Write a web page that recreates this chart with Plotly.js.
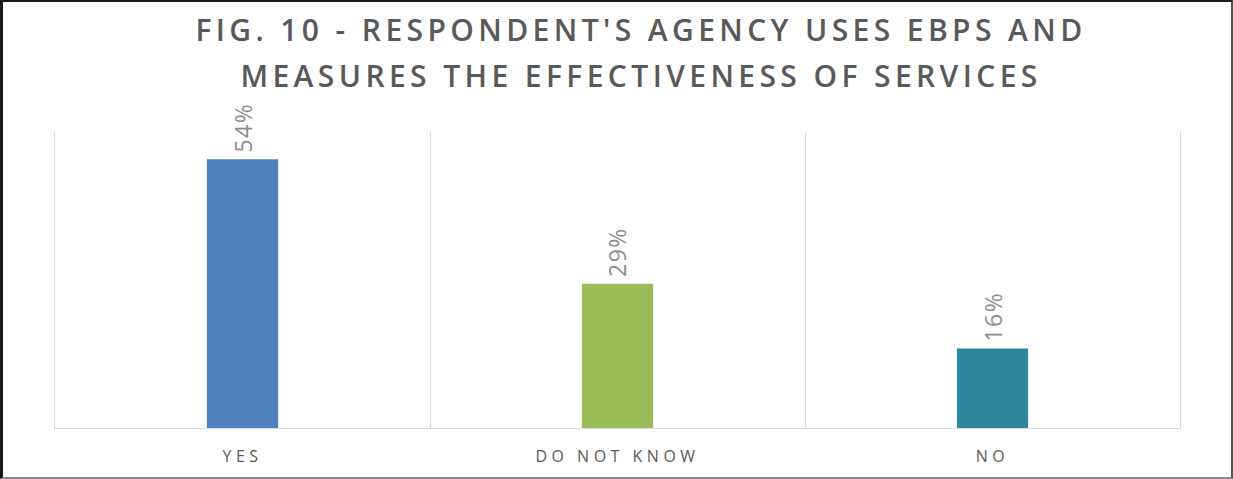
<!DOCTYPE html>
<html>
<head>
<meta charset="utf-8">
<script src="https://cdn.plot.ly/plotly-3.0.1.min.js"></script>
<style>
  html, body { margin: 0; padding: 0; background: #fff; }
  #wrap { position: relative; width: 1233px; height: 479px; }
  #chart { width: 1233px; height: 479px; }
  #frame { position: absolute; left: 0; top: 0; width: 1233px; height: 479px; box-sizing: border-box;
           border-left: 3px solid #1a1a1a; border-top: 2px solid #1a1a1a; border-right: 2px solid #555; border-bottom: 2px solid #888; pointer-events: none; }
  .annotation.title-line .annotation-text { letter-spacing: 4.4px; }
  .annotation.val-label .annotation-text { letter-spacing: 1.5px; }
  .xtick text { letter-spacing: 4.5px; }
</style>
</head>
<body>
<div id="wrap">
  <div id="chart"></div>
  <div id="frame"></div>
</div>
<script>
const categories = ["YES", "DO NOT KNOW", "NO"];
const values = [54, 29, 16];
const labels = ["54%", "29%", "16%"];
const barColors = ["#4F81BD", "#9BBB59", "#31859C"];
const titleLines = ["FIG. 10 - RESPONDENT'S AGENCY USES EBPS AND", "MEASURES THE EFFECTIVENESS OF SERVICES"];

const trace = {
  type: "bar",
  x: categories,
  y: values,
  marker: { color: barColors },
  width: 0.19,
  hoverinfo: "skip"
};

const titleAnns = titleLines.map((t, i) => ({
  text: t,
  xref: "paper", yref: "paper",
  x: 0.521, y: i === 0 ? 1.345 : 1.19,
  xanchor: "center", yanchor: "middle",
  showarrow: false,
  font: { family: "Open Sans", size: 30, weight: 600, color: "#595959" }
}));

const valueAnns = categories.map((c, i) => ({
  text: labels[i],
  xref: "x", yref: "y",
  x: c, y: values[i],
  yshift: 7,
  textangle: -90,
  xanchor: "center", yanchor: "bottom",
  showarrow: false,
  font: { family: "Open Sans", size: 23, color: "#8c8c8c" }
}));

const layout = {
  width: 1233,
  height: 479,
  margin: { l: 55, r: 53, t: 132, b: 51 },
  paper_bgcolor: "#ffffff",
  plot_bgcolor: "#ffffff",
  showlegend: false,
  font: { family: "Open Sans", color: "#595959" },
  xaxis: {
    type: "category",
    tickson: "boundaries",
    showgrid: true,
    gridcolor: "#d9d9d9",
    gridwidth: 1,
    showline: true,
    linecolor: "#d9d9d9",
    linewidth: 1,
    ticks: "",
    ticklabelstandoff: 14,
    tickfont: { family: "Open Sans", size: 16, color: "#595959" },
    fixedrange: true
  },
  yaxis: {
    range: [0, 59.5],
    showgrid: false,
    zeroline: false,
    showticklabels: false,
    showline: true,
    mirror: true,
    linecolor: "#d9d9d9",
    linewidth: 1,
    ticks: "",
    fixedrange: true
  },
  annotations: titleAnns.concat(valueAnns)
};

Plotly.newPlot("chart", [trace], layout, { displayModeBar: false, staticPlot: true }).then(gd => {
  const nodes = gd.querySelectorAll(".annotation");
  nodes.forEach((n, i) => n.classList.add(i < titleLines.length ? "title-line" : "val-label"));
  Plotly.relayout(gd, {});
});
</script>
</body>
</html>
